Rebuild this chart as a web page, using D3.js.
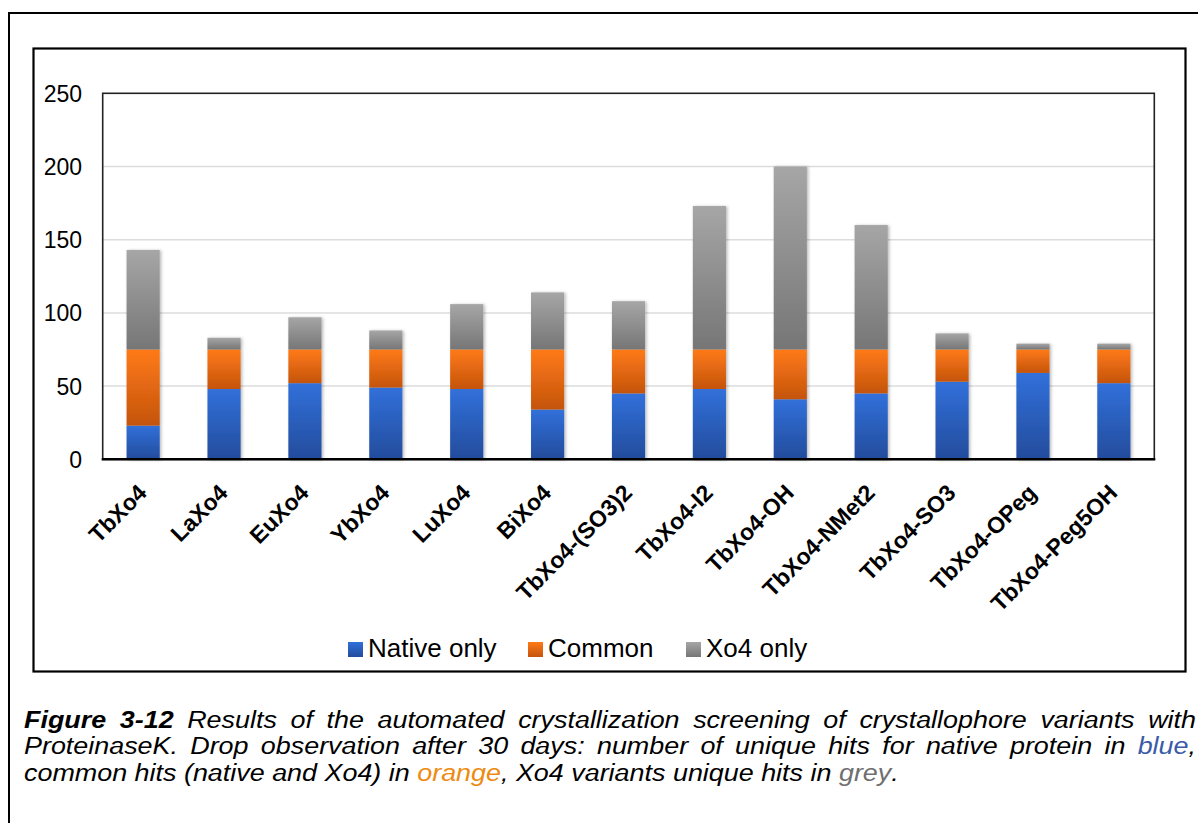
<!DOCTYPE html>
<html>
<head>
<meta charset="utf-8">
<script src="https://cdn.jsdelivr.net/npm/d3@7"></script>
<style>
  html, body { margin: 0; padding: 0; background: #fff; }
  svg { display: block; font-family: "Liberation Sans", Arial, sans-serif; }
</style>
</head>
<body>
<svg id="chart" width="1198" height="823"></svg>
<script>
// ---- data ----
const categories = ["TbXo4", "LaXo4", "EuXo4", "YbXo4", "LuXo4", "BiXo4", "TbXo4-(SO3)2",
  "TbXo4-I2", "TbXo4-OH", "TbXo4-NMet2", "TbXo4-SO3", "TbXo4-OPeg", "TbXo4-Peg5OH"];
const nativeOnly = [23, 48, 52, 49, 48, 34, 45, 48, 41, 45, 53, 59, 52];
const common     = [52, 27, 23, 26, 27, 41, 30, 27, 34, 30, 22, 16, 23];
const xo4Only    = [68, 8, 22, 13, 31, 39, 33, 98, 125, 85, 11, 4, 4];
const seriesNames = ["Native only", "Common", "Xo4 only"];
const yTicks = [0, 50, 100, 150, 200, 250];

// ---- setup ----
const svg = d3.select("#chart");
const defs = svg.append("defs");
const grads = [
  {id: "gBlue", top: "#3170da", bottom: "#234c9c"},
  {id: "gOrange", top: "#ff7a16", bottom: "#c4540e"},
  {id: "gGrey", top: "#a6a6a6", bottom: "#767676"}
];
grads.forEach(g => {
  const lg = defs.append("linearGradient").attr("id", g.id)
    .attr("x1", 0).attr("y1", 0).attr("x2", 0).attr("y2", 1);
  lg.append("stop").attr("offset", "0%").attr("stop-color", g.top);
  lg.append("stop").attr("offset", "100%").attr("stop-color", g.bottom);
});
const f = defs.append("filter").attr("id", "shadow").attr("x", "-20%").attr("y", "-10%")
  .attr("width", "150%").attr("height", "130%");
f.append("feDropShadow").attr("dx", 1.5).attr("dy", 0.5).attr("stdDeviation", 1.6)
  .attr("flood-color", "#000").attr("flood-opacity", 0.28);

// outer figure border (continues beyond the image)
svg.append("rect").attr("x", 9).attr("y", 13).attr("width", 1300).attr("height", 900)
  .attr("fill", "none").attr("stroke", "#000").attr("stroke-width", 2);
// chart box
svg.append("rect").attr("x", 33.5).attr("y", 48.5).attr("width", 1152).attr("height", 623)
  .attr("fill", "#fff").attr("stroke", "#000").attr("stroke-width", 2.2);

const plot = {left: 102.7, top: 93.3, right: 1154.3, bottom: 459.3};

const x = d3.scaleBand().domain(categories).range([plot.left, plot.right])
  .paddingInner(0.59).paddingOuter(0.295);
const y = d3.scaleLinear().domain([0, 250]).range([plot.bottom, plot.top]);

// gridlines
svg.append("g").selectAll("line").data(yTicks.filter(t => t > 0 && t < 250)).join("line")
  .attr("x1", plot.left).attr("x2", plot.right)
  .attr("y1", d => y(d)).attr("y2", d => y(d))
  .attr("stroke", "#dcdcdc").attr("stroke-width", 1.5);

// plot border
svg.append("rect").attr("x", plot.left).attr("y", plot.top)
  .attr("width", plot.right - plot.left).attr("height", plot.bottom - plot.top)
  .attr("fill", "none").attr("stroke", "#222").attr("stroke-width", 1.6);

// y tick labels
svg.append("g").selectAll("text").data(yTicks).join("text")
  .attr("x", 82).attr("y", d => y(d) + 8.5)
  .attr("text-anchor", "end").attr("font-size", 23).attr("fill", "#000")
  .text(d => d);

// stacked bars
const rows = categories.map((c, i) => ({cat: c, "Native only": nativeOnly[i], "Common": common[i], "Xo4 only": xo4Only[i]}));
const stacked = d3.stack().keys(seriesNames)(rows);
const fills = ["url(#gBlue)", "url(#gOrange)", "url(#gGrey)"];

const barG = svg.append("g");
const catG = barG.selectAll("g").data(categories).join("g").attr("filter", "url(#shadow)");
catG.each(function(cat, i) {
  const g = d3.select(this);
  stacked.forEach((s, k) => {
    const d = s[i];
    g.append("rect")
      .attr("x", x(cat)).attr("width", x.bandwidth())
      .attr("y", y(d[1])).attr("height", y(d[0]) - y(d[1]))
      .attr("fill", fills[k]);
  });
});

// x axis line
svg.append("line").attr("x1", plot.left - 1).attr("x2", plot.right + 1)
  .attr("y1", plot.bottom).attr("y2", plot.bottom)
  .attr("stroke", "#000").attr("stroke-width", 2.4);

// x labels
svg.append("g").selectAll("text").data(categories).join("text")
  .attr("transform", d => `translate(${x(d) + x.bandwidth() / 2 + 5},${plot.bottom + 35}) rotate(-45)`)
  .attr("text-anchor", "end").attr("font-size", 23).attr("font-weight", "bold").attr("fill", "#000")
  .text(d => d);

// legend
const legendItems = [
  {name: seriesNames[0], fill: fills[0], x: 348},
  {name: seriesNames[1], fill: fills[1], x: 528},
  {name: seriesNames[2], fill: fills[2], x: 686}
];
const lg = svg.append("g");
legendItems.forEach(it => {
  lg.append("rect").attr("x", it.x).attr("y", 642).attr("width", 15).attr("height", 15).attr("fill", it.fill);
  lg.append("text").attr("x", it.x + 20).attr("y", 657).attr("font-size", 26).attr("fill", "#000").text(it.name);
});

// caption
const sx = 1.17;
const capSize = 23;
const capLeft = 24, capRight = 1196;
const blueC = "#3a5ca8", orangeC = "#ee8a12", greyC = "#6f6f6f";
const captionLines = [
  {y: 728, justify: true, words: [
    [{t: "Figure", b: true}], [{t: "3-12", b: true}],
    ..."Results of the automated crystallization screening of crystallophore variants with".split(" ").map(w => [{t: w}])
  ]},
  {y: 754, justify: true, words: [
    ..."ProteinaseK. Drop observation after 30 days: number of unique hits for native protein in".split(" ").map(w => [{t: w}]),
    [{t: "blue", c: blueC}, {t: ","}]
  ]},
  {y: 781, justify: false, words: [
    ..."common hits (native and Xo4) in".split(" ").map(w => [{t: w}]),
    [{t: "orange", c: orangeC}, {t: ","}],
    ..."Xo4 variants unique hits in".split(" ").map(w => [{t: w}]),
    [{t: "grey", c: greyC}, {t: "."}]
  ]}
];
const capG = svg.append("g").attr("font-size", capSize).attr("font-style", "italic");
captionLines.forEach(line => {
  const lgp = capG.append("g").attr("transform", `translate(${capLeft},${line.y}) scale(${sx},1)`);
  const wordEls = line.words.map(parts => {
    const t = lgp.append("text").attr("x", 0).attr("y", 0);
    parts.forEach(p => {
      t.append("tspan").text(p.t)
        .attr("font-weight", p.b ? "bold" : null)
        .attr("fill", p.c || "#000");
    });
    return t;
  });
  const widths = wordEls.map(t => t.node().getComputedTextLength());
  const total = d3.sum(widths);
  const target = (capRight - capLeft) / sx;
  const gap = line.justify ? (target - total) / (wordEls.length - 1) : capSize * 0.278;
  let cx = 0;
  wordEls.forEach((t, i) => { t.attr("x", cx); cx += widths[i] + gap; });
});
</script>
</body>
</html>
